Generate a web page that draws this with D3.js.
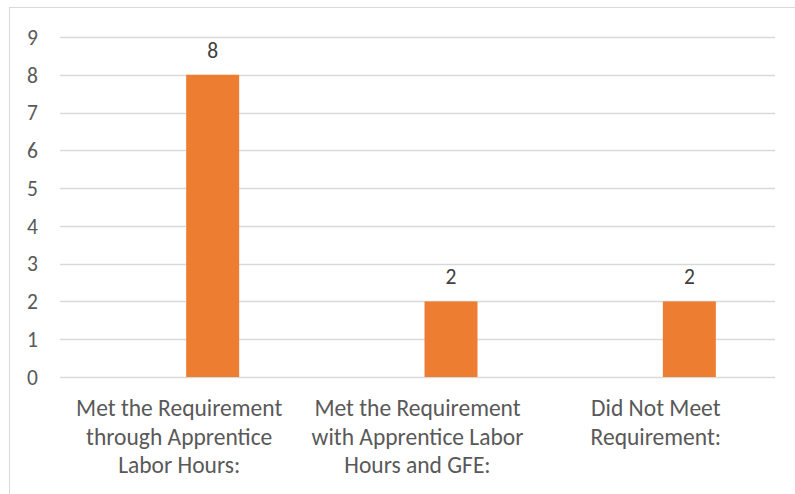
<!DOCTYPE html>
<html><head><meta charset="utf-8">
<script src="https://cdn.jsdelivr.net/npm/d3@7"></script>
<style>html,body{margin:0;padding:0;background:#fff;overflow:hidden}</style>
</head><body>
<svg id="c" width="795" height="494"></svg>
<script>
const categories = [
  ["Met the Requirement","through Apprentice","Labor Hours:"],
  ["Met the Requirement","with Apprentice Labor","Hours and GFE:"],
  ["Did Not Meet","Requirement:"]
];
const seriesNames = ["(blank)","Count"];
const values = [8, 2, 2];
const yTicks = [0,1,2,3,4,5,6,7,8,9];

const font = "Carlito, Calibri, Lato, sans-serif";
const textColor = "#595959";
const svg = d3.select("#c");

svg.append("rect").attr("x",9.5).attr("y",7.5).attr("width",800).attr("height",500)
  .attr("fill","#fff").attr("stroke","#D9D9D9").attr("stroke-width",1);

const pLeft = 60, pRight = 775, pTop = 37, pBottom = 377;
const x = d3.scaleBand().domain(categories.map((d,i)=>i)).range([pLeft,pRight]);
const xs = d3.scaleBand().domain(seriesNames).range([0,x.bandwidth()]).paddingInner(0.209).paddingOuter(0.883);
const y = d3.scaleLinear().domain([0,9]).range([pBottom, pTop]);

// gridlines
svg.append("g").selectAll("line").data(yTicks).join("line")
  .attr("x1",pLeft).attr("x2",pRight)
  .attr("y1",d=>Math.round(y(d))+0.5).attr("y2",d=>Math.round(y(d))+0.5)
  .attr("stroke","#D9D9D9").attr("stroke-width",1.5);

// y tick labels
svg.append("g").selectAll("text").data(yTicks).join("text")
  .attr("x",38).attr("y",d=>y(d)).attr("dy","0.36em")
  .attr("text-anchor","end").attr("font-family",font).attr("font-size",21.5)
  .attr("fill",textColor).text(d=>d);

// bars
svg.append("g").selectAll("rect").data(values).join("rect")
  .attr("x",(d,i)=>x(i)+xs("Count"))
  .attr("width",xs.bandwidth())
  .attr("y",d=>y(d)).attr("height",d=>y(0)-y(d))
  .attr("fill","#ED7D31");

// data labels
svg.append("g").selectAll("text").data(values).join("text")
  .attr("x",(d,i)=>x(i)+xs("Count")+xs.bandwidth()/2)
  .attr("y",d=>y(d)-25).attr("dy","0.36em")
  .attr("text-anchor","middle").attr("font-family",font).attr("font-size",21.5)
  .attr("fill","#404040").text(d=>d);

// category labels
const cg = svg.append("g").selectAll("text").data(categories).join("text")
  .attr("x",(d,i)=>x(i)+x.bandwidth()/2)
  .attr("y",416)
  .attr("text-anchor","middle").attr("font-family",font).attr("font-size",23.5)
  .attr("fill",textColor);
cg.selectAll("tspan").data(d=>d).join("tspan")
  .attr("x",function(){return this.parentNode.getAttribute("x");})
  .attr("dy",(d,j)=>j===0?0:28.7)
  .text(d=>d);
</script>
</body></html>
